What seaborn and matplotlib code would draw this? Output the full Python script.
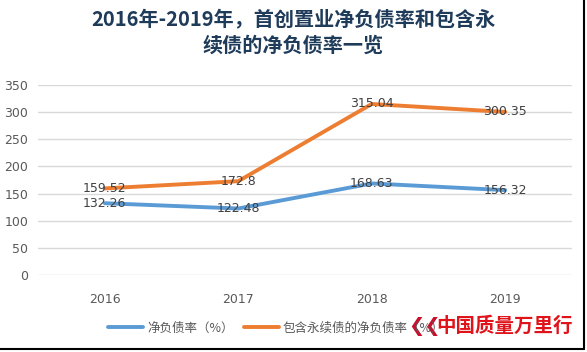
import matplotlib
matplotlib.use("Agg")
import matplotlib.pyplot as plt
import seaborn as sns
import pandas as pd
from matplotlib.lines import Line2D

years = ["2016", "2017", "2018", "2019"]
net_debt = [132.26, 122.48, 168.63, 156.32]
net_debt_perp = [159.52, 172.8, 315.04, 300.35]
series_names = ["净负债率（%）", "包含永续债的净负债率（%）"]
title = "2016年-2019年，首创置业净负债率和包含永\n续债的净负债率一览"
yticks = [0, 50, 100, 150, 200, 250, 300, 350]

sns.set_theme(style="white")
plt.rcParams['font.family'] = ['Noto Sans CJK SC', 'DejaVu Sans']

df = pd.DataFrame({
    "year": years * 2,
    "value": net_debt + net_debt_perp,
    "series": [series_names[0]] * 4 + [series_names[1]] * 4,
})

fig = plt.figure(figsize=(5.87, 3.52), dpi=100)
ax = fig.add_axes([38 / 587, 1 - 275 / 352, 534 / 587, 190 / 352])

colors = ["#5b9bd5", "#ed7d31"]
sns.lineplot(data=df, x="year", y="value", hue="series", palette=colors,
             linewidth=2.8, ax=ax, legend=False, sort=False)

ax.set_xlim(-0.5, 3.5)
ax.set_ylim(0, 350)
ax.set_yticks(yticks)
ax.yaxis.grid(True, color="#d9d9d9", linewidth=1)
ax.set_axisbelow(True)
for s in ax.spines.values():
    s.set_visible(False)
ax.set_xlabel("")
ax.set_ylabel("")
ax.tick_params(axis="both", length=0, labelsize=9, colors="#595959")
ax.tick_params(axis="y", pad=7)
ax.tick_params(axis="x", pad=13)
for lbl in ax.get_xticklabels() + ax.get_yticklabels():
    lbl.set_family("DejaVu Sans")

for i, v in enumerate(net_debt):
    ax.text(i, v, f"{v:g}", ha="center", va="center", fontsize=9, color="#404040",
            family="DejaVu Sans")
for i, v in enumerate(net_debt_perp):
    ax.text(i, v, f"{v:g}", ha="center", va="center", fontsize=9, color="#404040",
            family="DejaVu Sans")

fig.text(0.5, 1 - 32 / 352, title, ha="center", va="center", fontsize=14.5,
         fontweight="bold", color="#1f3b5a", linespacing=1.35)

handles = [Line2D([0], [0], color=c, linewidth=2.8) for c in colors]
fig.legend(handles, series_names, loc="center", bbox_to_anchor=(276 / 587, 1 - 328 / 352),
           ncol=2, frameon=False, fontsize=9, handlelength=2.8, handletextpad=0.3,
           columnspacing=0.8, labelcolor="#595959")

fig.text(436 / 587, 1 - 326 / 352, "中国质量万里行", ha="left", va="center", fontsize=14,
         color="#e0121a", fontweight="bold", style="italic")
fig.text(408 / 587, 1 - 326 / 352, "❮❮", ha="left", va="center", fontsize=14,
         color="#c8102e", family="DejaVu Sans", fontweight="bold")

fig.add_artist(Line2D([583.5 / 587, 583.5 / 587], [1 - 349 / 352, 1], color="black", linewidth=1.5))
fig.add_artist(Line2D([0, 583.5 / 587], [1 - 349 / 352, 1 - 349 / 352], color="black", linewidth=1.5))

fig.savefig("out.png", dpi=100)
